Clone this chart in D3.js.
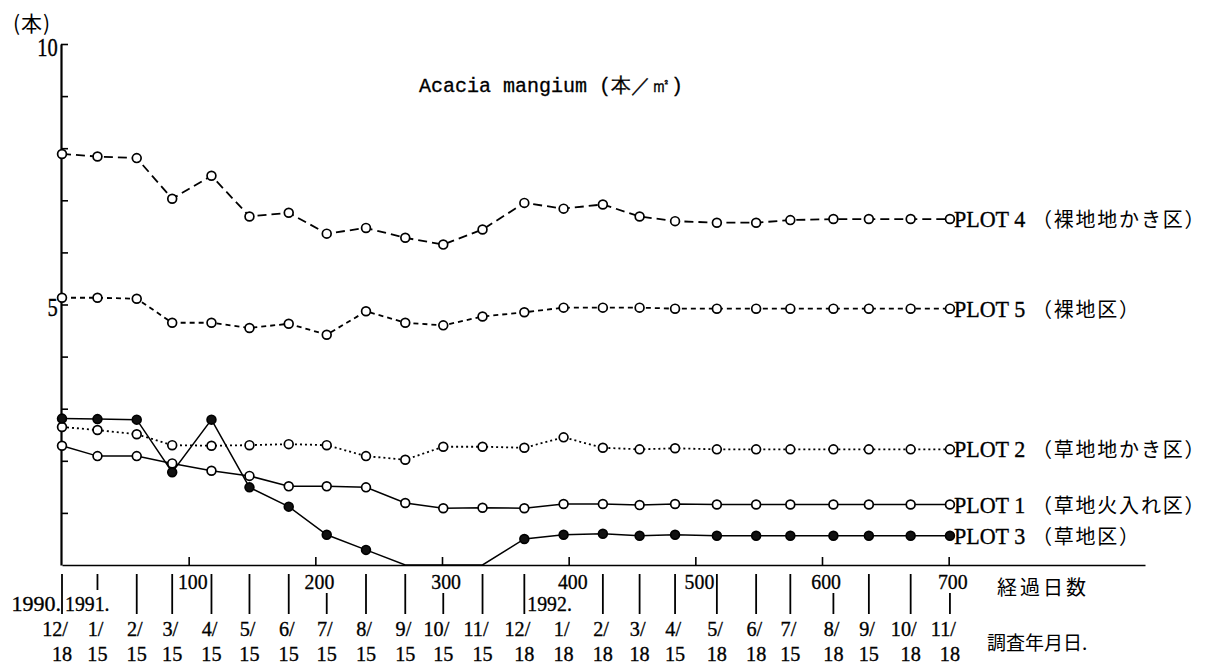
<!DOCTYPE html>
<html><head><meta charset="utf-8">
<script src="https://cdn.jsdelivr.net/npm/d3@7"></script>
<style>body{margin:0;background:#fff}svg{display:block}</style>
</head><body>
<svg id="c" width="1212" height="667"></svg>
<script>
// ---- data ----
const elapsedDays = [0,28,59,87,118,148,179,209,240,271,301,332,365,396,427,456,484,517,548,575,609,637,670,701];
const monthLabels = ["12/","1/","2/","3/","4/","5/","6/","7/","8/","9/","10/","11/","12/","1/","2/","3/","4/","5/","6/","7/","8/","9/","10/","11/"];
const dayLabels   = ["18","15","15","15","15","15","15","15","15","15","15","15","18","18","18","18","15","18","18","15","18","15","18","18"];
const yearLabels  = ["1990.","1991.","1992."];
const yearDays    = [0,0,365];
const hundredTicks = [100,200,300,400,500,600,700];
const yTicks = [1,2,3,4,5,6,7,8,9,10];

const plot4 = [7.89,7.84,7.81,7.03,7.47,6.69,6.76,6.36,6.47,6.28,6.15,6.44,6.95,6.84,6.92,6.69,6.60,6.57,6.57,6.62,6.64,6.64,6.64,6.64];
const plot5 = [5.13,5.13,5.11,4.65,4.65,4.55,4.63,4.42,4.87,4.65,4.60,4.77,4.85,4.94,4.94,4.94,4.92,4.92,4.92,4.92,4.92,4.92,4.92,4.92];
const plot2 = [2.65,2.59,2.51,2.30,2.29,2.30,2.32,2.30,2.09,2.02,2.27,2.27,2.25,2.45,2.25,2.22,2.24,2.22,2.22,2.22,2.22,2.22,2.22,2.22];
const plot1 = [2.29,2.09,2.09,1.95,1.81,1.71,1.51,1.51,1.49,1.19,1.09,1.10,1.09,1.17,1.17,1.15,1.17,1.16,1.16,1.16,1.16,1.16,1.16,1.16];
const plot3 = [2.81,2.80,2.79,1.78,2.79,1.49,1.12,0.58,0.29,0,0,0,0.50,0.58,0.60,0.56,0.58,0.56,0.56,0.56,0.56,0.56,0.56,0.56];

const seriesNames = ["PLOT 4","PLOT 5","PLOT 2","PLOT 1","PLOT 3"];
const seriesNotes = ["（裸地地かき区）","（裸地区）","（草地地かき区）","（草地火入れ区）","（草地区）"];
const seriesValues = [plot4, plot5, plot2, plot1, plot3];
const seriesDash = ["9,5","5,4","2,3",null,null];
const seriesFilled = [false,false,false,false,true];

const titleText = "Acacia mangium (本／㎡)";
const unitText = "(本)";
const xTitle = "経過日数";
const dateTitle = "調査年月日.";

// ---- drawing ----
const svg = d3.select("#c");
const SERIF = '"Liberation Serif","DejaVu Serif",serif';
const CJK = '"Noto Sans CJK JP","Noto Sans CJK SC",sans-serif';
const x = d3.scaleLinear().domain([0,855]).range([62,1145]);
const y = d3.scaleLinear().domain([0,10]).range([565,44]);

function ctext(x0, y0, str, size, anchor, sx, fam){
  return svg.append("text")
    .attr("transform",`translate(${x0},${y0}) scale(${sx},1)`)
    .attr("text-anchor",anchor).attr("font-family",fam||SERIF)
    .attr("font-size",size).attr("fill","#000")
    .attr("stroke","#000").attr("stroke-width",0.35).text(str);
}

// y axis
const yAxis = d3.axisLeft(y).tickValues(yTicks).tickSizeInner(-7).tickSizeOuter(0)
  .tickPadding(4).tickFormat(d => (d % 5 === 0 ? d : ""));
const gy = svg.append("g").attr("transform",`translate(${x(0)-1},0)`).call(yAxis);
gy.select(".domain").attr("stroke","#000").attr("stroke-width",2.2);
gy.selectAll(".tick line").attr("stroke","#000").attr("stroke-width",1.6);
gy.selectAll(".tick text").attr("font-family",SERIF).attr("font-size",25)
  .attr("fill","#000").attr("stroke","#000").attr("stroke-width",0.35)
  .attr("dy","0.45em").attr("transform","scale(0.82,1)");

// x axis
const xAxis = d3.axisBottom(x).tickValues(hundredTicks).tickSizeInner(-8).tickSizeOuter(0)
  .tickPadding(8).tickFormat(d3.format("d"));
const gx = svg.append("g").attr("transform",`translate(0,${y(0)})`).call(xAxis);
gx.select(".domain").attr("stroke","#000").attr("stroke-width",1.7);
gx.selectAll(".tick line").attr("stroke","#000").attr("stroke-width",1.6);
gx.selectAll(".tick text").attr("font-family",SERIF).attr("font-size",22)
  .attr("fill","#000").attr("stroke","#000").attr("stroke-width",0.35)
  .attr("x",4).attr("transform","scale(0.9,1)");

// date marker lines under axis
const labelCenters = hundredTicks.map(h => x(h) + 3);
const yearSpans = yearLabels.map((t,i) => i === 0 ? null : [x(yearDays[i]) + 3, x(yearDays[i]) + 50]);
elapsedDays.forEach((d,i) => {
  const px = x(d);
  let top = 574, bot = 614;
  if (labelCenters.some(c => Math.abs(c - px) < 15)) top = 593;
  if (yearSpans.some(s => s && px > s[0] && px < s[1])) bot = 590;
  if (top < bot) {
    svg.append("line").attr("x1",px).attr("x2",px).attr("y1",top).attr("y2",bot)
      .attr("stroke","#000").attr("stroke-width",1.8);
  }
  ctext(px + 6, 636, monthLabels[i], 22, "end", 0.92);
  ctext(px, 661, dayLabels[i], 22, "middle", 0.92);
});
yearLabels.forEach((t,i) => {
  const px = x(yearDays[i]);
  if (i === 0) ctext(px - 1, 611, t, 22, "end", 1.0);
  else ctext(px + 3, 611, t, 22, "start", 0.9);
});

// series
const line = d3.line().x((v,i) => x(elapsedDays[i])).y(v => y(v));
seriesValues.forEach((vals,k) => {
  svg.append("path").datum(vals).attr("d",line).attr("fill","none")
    .attr("stroke","#000").attr("stroke-width", seriesDash[k] ? 1.8 : 1.5)
    .attr("stroke-dasharray", seriesDash[k]);
});
seriesValues.forEach((vals,k) => {
  svg.append("g").selectAll("circle").data(vals.map((v,i)=>({v,i})).filter(o => o.v > 0))
    .join("circle")
    .attr("cx", o => x(elapsedDays[o.i])).attr("cy", o => y(o.v)).attr("r",4.4)
    .attr("fill", seriesFilled[k] ? "#111" : "#fff")
    .attr("stroke","#000").attr("stroke-width",1.7);
});

// series labels
seriesValues.forEach((vals,k) => {
  const last = vals.length - 1;
  const px = x(elapsedDays[last]) + 4, py = y(vals[last]) + 8;
  ctext(px, py, seriesNames[k], 24, "start", 0.92);
  svg.append("text").attr("x", px + 78).attr("y", py).attr("font-family",CJK)
    .attr("font-size",20).attr("letter-spacing",1.8).attr("fill","#000").text(seriesNotes[k]);
});

// titles
svg.append("text").attr("x",551).attr("y",92).attr("text-anchor","middle")
  .attr("font-family",'"Liberation Mono","DejaVu Sans Mono",monospace').attr("font-size",20)
  .attr("fill","#000").attr("stroke","#000").attr("stroke-width",0.3).text(titleText);
svg.append("text").attr("x",13).attr("y",31).attr("font-family",CJK).attr("font-size",21)
  .attr("letter-spacing",1).attr("fill","#000").text(unitText);
svg.append("text").attr("x",997).attr("y",595).attr("font-family",CJK).attr("font-size",20)
  .attr("letter-spacing",3).attr("fill","#000").text(xTitle);
svg.append("text").attr("x",987).attr("y",650).attr("font-family",CJK).attr("font-size",19)
  .attr("fill","#000").text(dateTitle);
</script>
</body></html>
